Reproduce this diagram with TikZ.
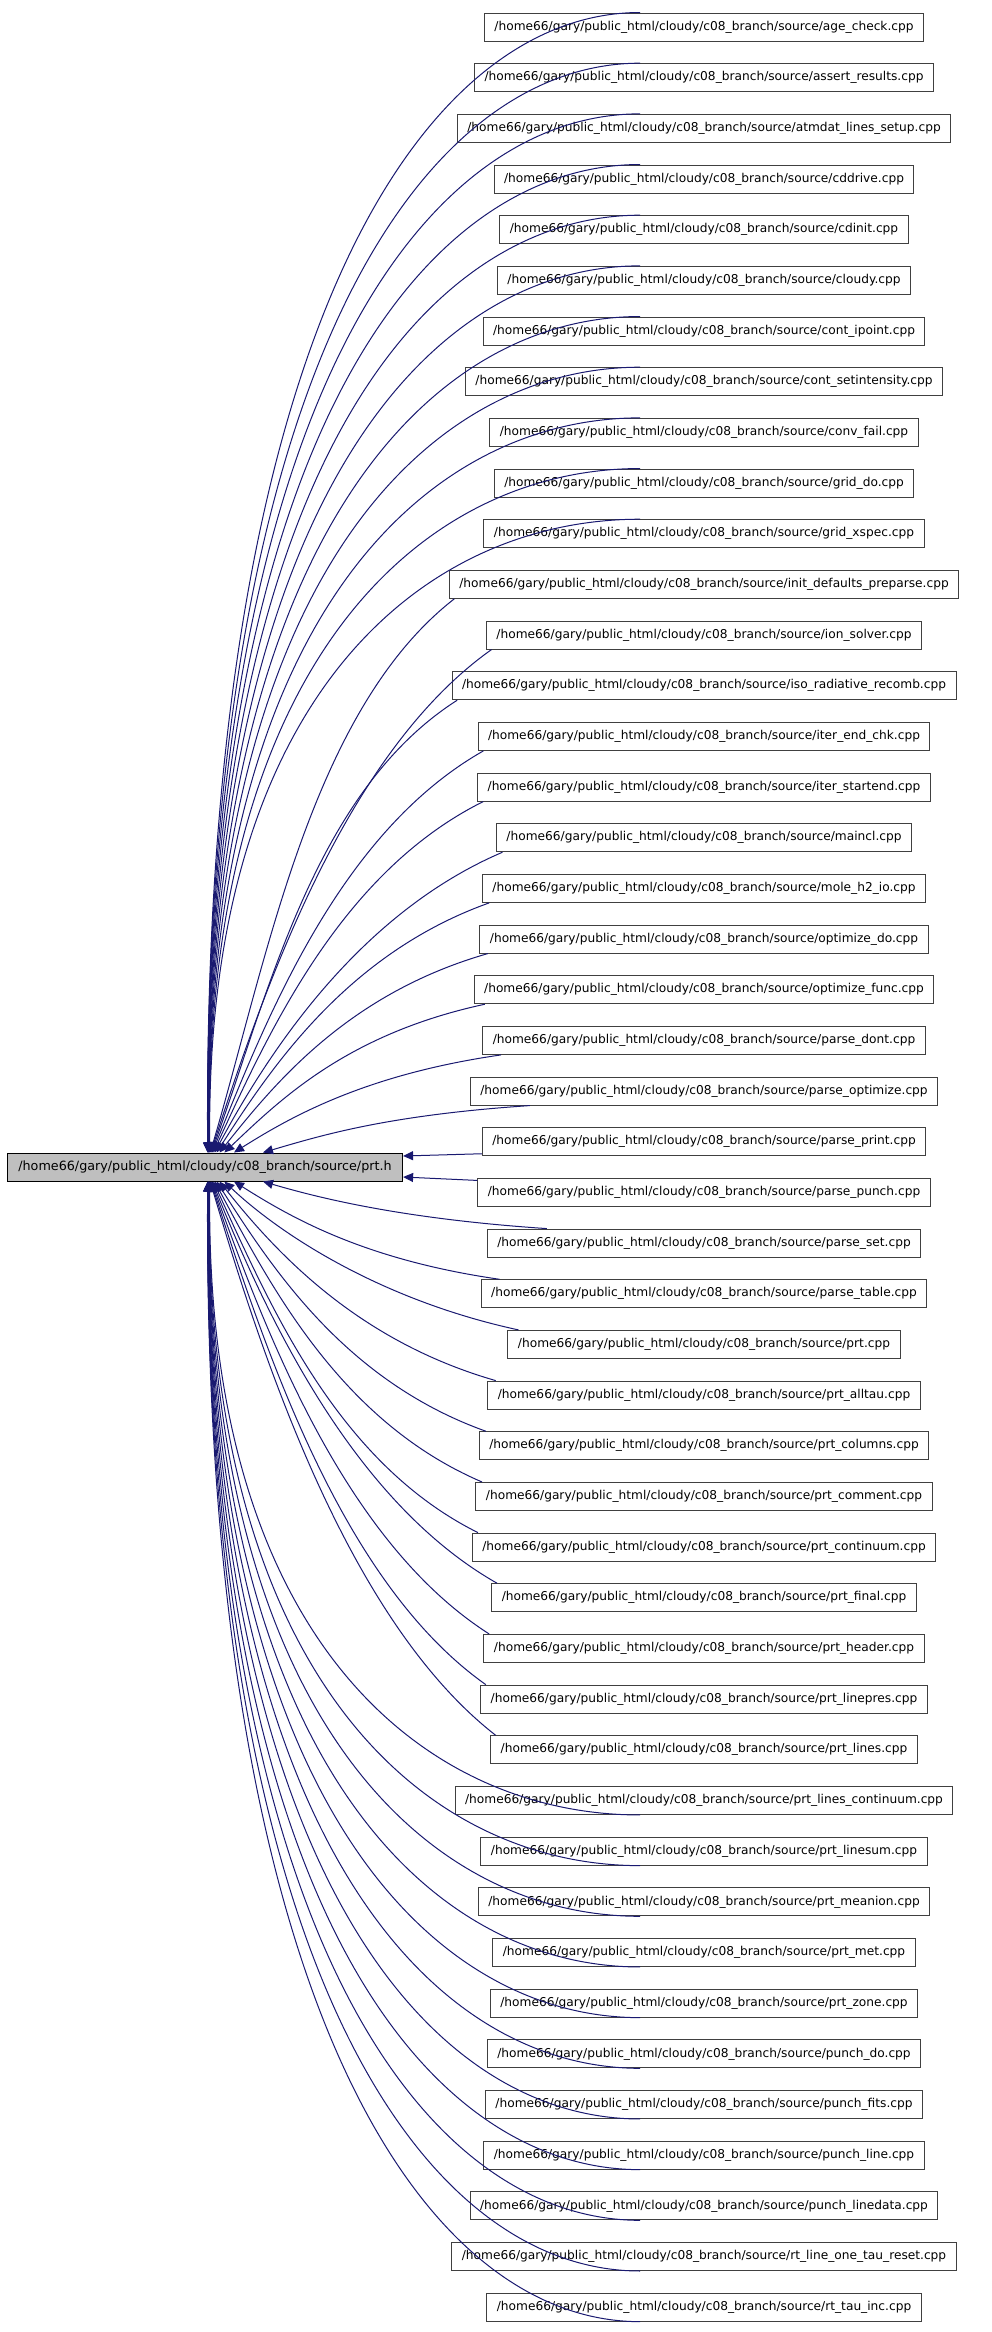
\documentclass[tikz,border=0pt]{standalone}
\usepackage{fontspec}
\setmainfont{DejaVu Sans}
\usepackage{xcolor}
\usepackage{tikz}
\usetikzlibrary{calc,arrows.meta}

\definecolor{edgeblue}{HTML}{191970}
\definecolor{rootgray}{HTML}{BFBFBF}
\newcommand\srcdir{/home66/gary/public\_html/cloudy/c08\_branch/source/}

\begin{document}
\begin{tikzpicture}[
  x=0.75pt, y=-0.75pt,
  font=\fontsize{9.15}{11}\selectfont,
  file/.style={draw=black!75, line width=0.75pt, fill=white,
               inner xsep=7.5pt, inner ysep=0pt, minimum height=21pt},
  root/.style={file, draw=black, fill=rootgray, inner xsep=8.25pt,
               font=\fontsize{9.55}{11}\selectfont},
  dep/.style={-{Triangle[length=7.5pt,width=6.75pt]}, draw=edgeblue,
              line width=0.75pt}]

\useasboundingbox (0,0) rectangle (992,2332);

\node[root] (prt) at (205,1167) {\srcdir prt.h};

% the including sources, top to bottom
\foreach \f [count=\i from 0] in {age\_check, assert\_results,
    atmdat\_lines\_setup, cddrive, cdinit, cloudy, cont\_ipoint,
    cont\_setintensity, conv\_fail, grid\_do, grid\_xspec,
    init\_defaults\_preparse, ion\_solver, iso\_radiative\_recomb,
    iter\_end\_chk, iter\_startend, maincl, mole\_h2\_io, optimize\_do,
    optimize\_func, parse\_dont, parse\_optimize, parse\_print,
    parse\_punch, parse\_set, parse\_table, prt, prt\_alltau,
    prt\_columns, prt\_comment, prt\_continuum, prt\_final, prt\_header,
    prt\_linepres, prt\_lines, prt\_lines\_continuum, prt\_linesum,
    prt\_meanion, prt\_met, prt\_zone, punch\_do, punch\_fits,
    punch\_line, punch\_linedata, rt\_line\_one\_tau\_reset, rt\_tau\_inc}
  \node[file] (s\i) at (704,{27+50.67*\i}) {\srcdir\f.cpp};

% edges into prt.h
\foreach \i in {0,...,45}{
  \pgfmathtruncatemacro\up{\i<23}
  \pgfmathtruncatemacro\dd{\up==1 ? 22-\i : \i-23}
  \pgfmathsetmacro\sg{\up==1 ? 1 : -1}
  \pgfmathsetmacro\yc{27+50.67*\i}
  \ifnum\up=1 \def\sa{north}\def\sw{south west}\else \def\sa{south}\def\sw{north west}\fi
  \ifnum\dd=0
    \pgfmathsetmacro\ys{\sg*12}
    \pgfmathsetmacro\ye{\up==1 ? -11 : 10}
    \draw[dep] ($(s\i.west)+(0,\ys)$) -- ($(prt.east)+(0,\ye)$);
  \else
    \pgfmathsetmacro\tipx{58/\dd}
    \ifnum\dd>11
      % far ones leave over the top (or under the bottom) of their box
      \pgfmathsetmacro\dy{abs(\yc-1167)}
      \pgfmathsetmacro\cx{\tipx-5}
      \pgfmathsetmacro\cy{-\sg*0.72*\dy}
      \draw[dep] ($(s\i.\sa)+(-64,0)$)
        .. controls ($(s\i.\sa)+(-281,0)$) and ($(prt.\sa)+(\cx,\cy)$)
        .. ($(prt.\sa)+(\tipx,0)$);
    \else
      \pgfmathsetmacro\offs{5+55/(\dd*\dd)}
      \pgfmathsetmacro\dx{285+\offs-\tipx}
      \pgfmathsetmacro\dyn{abs(\yc-1167)-28}
      \pgfmathsetmacro\ax{\offs-0.5*\dx}
      \pgfmathsetmacro\ay{\sg*0.2*\dyn}
      \pgfmathsetmacro\bx{\tipx+0.2*\dx}
      \pgfmathsetmacro\by{-\sg*0.35*\dyn}
      \draw[dep] ($(s\i.\sw)+(\offs,0)$)
        .. controls ($(s\i.\sw)+(\ax,\ay)$) and ($(prt.\sa)+(\bx,\by)$)
        .. ($(prt.\sa)+(\tipx,0)$);
    \fi
  \fi
}

\end{tikzpicture}
\end{document}
